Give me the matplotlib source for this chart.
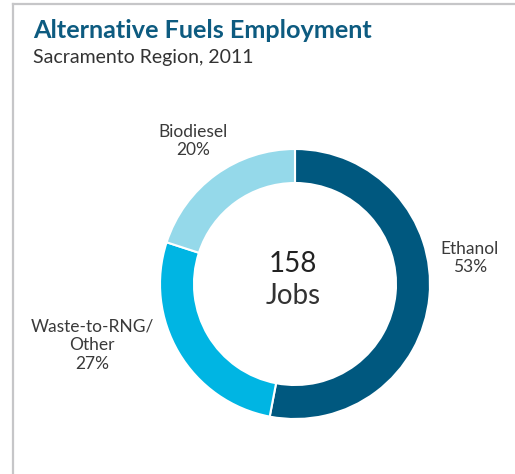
import matplotlib.pyplot as plt
from matplotlib.lines import Line2D

fuels = ["Ethanol", "Waste-to-RNG/\nOther", "Biodiesel"]
shares = [53, 27, 20]
colors = ["#00587f", "#00b5e3", "#95d9ea"]
total_jobs = 158

W, H = 515, 474
fig = plt.figure(figsize=(W / 100, H / 100), dpi=100)
ax = fig.add_axes([0, 0, 1, 1])

# donut, clockwise from 12 o'clock
cx, cy, r = 295, H - 284, 135
ax.pie(shares, colors=colors, startangle=90, counterclock=False,
       center=(cx, cy), radius=r, frame=True,
       wedgeprops=dict(width=34, edgecolor="white", linewidth=1.5))
ax.set_xlim(0, W)
ax.set_ylim(0, H)
ax.set_aspect("equal")
ax.axis("off")

lbl = dict(ha="center", va="center", fontsize=12.5, color="#3a3a3a",
           family="Lato", linespacing=1.2)
label_pos = [(470, H - 258), (92, H - 345), (193, H - 141)]
for name, s, (x, y) in zip(fuels, shares, label_pos):
    ax.text(x, y, f"{name}\n{s}%", **lbl)

ax.text(cx - 2, H - 264, str(total_jobs), ha="center", va="center",
        fontsize=20, color="#222222", family="Lato")
ax.text(cx - 2, H - 296, "Jobs", ha="center", va="center",
        fontsize=20, color="#333333", family="Lato")

fig.text(33 / W, 1 - 30 / H, "Alternative Fuels Employment", ha="left",
         va="center", fontsize=18.2, fontweight="bold", color="#0d5b80",
         family="Lato")
fig.text(33 / W, 1 - 57 / H, "Sacramento Region, 2011", ha="left",
         va="center", fontsize=14, color="#333333", family="Lato")

# grey box edge on top and left
fig.add_artist(Line2D([13 / W, 1], [1 - 4 / H, 1 - 4 / H], color="#c6c6c8",
                      lw=1.6, transform=fig.transFigure))
fig.add_artist(Line2D([13 / W, 13 / W], [0, 1 - 4 / H], color="#c6c6c8",
                      lw=1.6, transform=fig.transFigure))

fig.savefig("out.png", dpi=100)
